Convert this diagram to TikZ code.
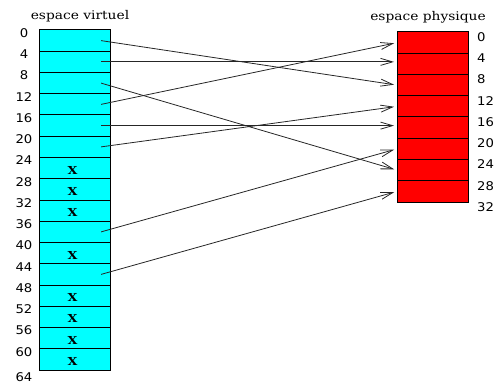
\documentclass[tikz,border=0pt]{standalone}
\usepackage{fontspec}
\newfontfamily\titlefont[FakeStretch=1.15]{DejaVu Serif}
\newfontfamily\numfont[FakeStretch=1.1]{DejaVu Sans}
\usetikzlibrary{arrows.meta,calc}
\definecolor{vcyan}{RGB}{0,255,255}
\definecolor{pred}{RGB}{255,0,0}
\begin{document}
\begin{tikzpicture}[x=1pt,y=-1pt,
  cell/.style={draw=black, line width=1pt, minimum width=71pt, minimum height=21.25pt, inner sep=0pt, outer sep=0pt},
  vcell/.style={cell, fill=vcyan},
  pcell/.style={cell, fill=pred},
  numlab/.style={font=\numfont\fontsize{12}{12}\selectfont, inner sep=0pt},
  titlelab/.style={font=\titlefont\fontsize{12}{12}\selectfont, inner sep=0pt},
  xmark/.style={font=\titlefont\bfseries\fontsize{11}{11}\selectfont, inner sep=0pt},
  map/.style={draw=black!85, line width=0.8pt, -{Straight Barb[length=12pt,width=7pt]}, shorten >=3pt}]
\useasboundingbox (0,0) rectangle (500,385);
% titles
\node[titlelab] (tv) at (80,16) {espace virtuel};
\node[titlelab] (tp) at (428,17) {espace physique};
% virtual space
\foreach \i in {0,...,15} {
  \node[vcell] (v\i) at (74.5, {30+21.25*\i+10.625}) {};
}
\foreach \i in {6,7,8,10,12,13,14,15} {
  \node[xmark] (x\i) at ($(v\i.center)+(-2,2)$) {X};
}
\foreach \i in {0,...,15} {
  \pgfmathtruncatemacro{\n}{4*\i}
  \node[numlab] (lv\i) at (24, {30+21.25*\i+3}) {\n};
}
\node[numlab] (lv16) at (24, 377.5) {64};
% physical space
\foreach \i in {0,...,7} {
  \node[pcell] (p\i) at (432.5, {32+21.25*\i+10.625}) {};
}
\foreach \i in {0,...,8} {
  \pgfmathtruncatemacro{\n}{4*\i}
  \node[numlab, anchor=west] (lp\i) at (477, {32+21.25*\i+5}) {\n};
}
% mappings
\coordinate (s0) at ($(v0.center)!0.75!(v0.east)$);
\coordinate (s1) at ($(v1.center)!0.75!(v1.east)$);
\coordinate (s2) at ($(v2.center)!0.75!(v2.east)$);
\coordinate (s3) at ($(v3.center)!0.75!(v3.east)$);
\coordinate (s4) at ($(v4.center)!0.75!(v4.east)$);
\coordinate (s5) at ($(v5.center)!0.75!(v5.east)$);
\coordinate (s9) at ($(v9.center)!0.75!(v9.east)$);
\coordinate (s11) at ($(v11.center)!0.75!(v11.east)$);
\draw[map] (s0) -- (p2.west);
\draw[map] (s1) -- (s1 -| p1.west);
\draw[map] (s2) -- (p6.west);
\draw[map] (s3) -- (p0.west);
\draw[map] (s4) -- (s4 -| p4.west);
\draw[map] (s5) -- (p3.west);
\draw[map] (s9) -- (p5.west);
\draw[map] (s11) -- (p7.west);
\end{tikzpicture}
\end{document}
